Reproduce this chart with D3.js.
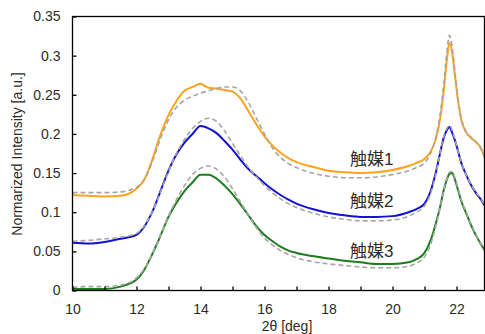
<!DOCTYPE html>
<html>
<head>
<meta charset="utf-8">
<script src="https://cdn.jsdelivr.net/npm/d3@7/dist/d3.min.js"></script>
<style>
  body { margin: 0; background: #fff; }
  svg { display: block; }
  text { font-family: "Liberation Sans", Arial, "Noto Sans CJK JP", sans-serif; fill: #2b2b2b; }
</style>
</head>
<body>
<svg id="chart" width="485" height="334"></svg>
<script>
// 2θ sample positions
const angles = [10, 10.5, 11, 11.5, 12, 12.25, 12.5, 12.75, 13, 13.25, 13.5, 13.75, 14, 14.25, 14.5, 14.75,
  15, 15.25, 15.5, 15.75, 16, 16.25, 16.5, 16.75, 17, 17.5, 18, 18.5, 19, 19.5, 20, 20.5, 20.75, 21,
  21.2, 21.35, 21.5, 21.6, 21.7, 21.78, 21.86, 21.95, 22.05, 22.15, 22.3, 22.45, 22.6, 22.75, 22.9];

// measured
const cat1 = [0.122, 0.121, 0.120, 0.121, 0.130, 0.142, 0.168, 0.199, 0.224, 0.242, 0.255, 0.260, 0.264, 0.259, 0.258, 0.256,
  0.254, 0.245, 0.229, 0.212, 0.197, 0.185, 0.176, 0.169, 0.164, 0.158, 0.153, 0.151, 0.150, 0.151, 0.154, 0.159, 0.163, 0.168,
  0.178, 0.193, 0.222, 0.255, 0.295, 0.316, 0.305, 0.275, 0.242, 0.218, 0.202, 0.195, 0.190, 0.183, 0.168];
const cat2 = [0.061, 0.060, 0.062, 0.066, 0.071, 0.082, 0.101, 0.127, 0.153, 0.174, 0.189, 0.200, 0.210, 0.207, 0.201, 0.191,
  0.180, 0.167, 0.155, 0.146, 0.137, 0.129, 0.122, 0.116, 0.111, 0.104, 0.099, 0.096, 0.094, 0.094, 0.095, 0.100, 0.104, 0.111,
  0.128, 0.150, 0.178, 0.195, 0.205, 0.209, 0.202, 0.192, 0.178, 0.163, 0.148, 0.135, 0.125, 0.117, 0.107];
const cat3 = [0.002, 0.002, 0.002, 0.005, 0.014, 0.027, 0.047, 0.070, 0.094, 0.112, 0.127, 0.138, 0.148, 0.148, 0.143, 0.134,
  0.123, 0.110, 0.096, 0.082, 0.071, 0.063, 0.056, 0.051, 0.048, 0.044, 0.041, 0.038, 0.036, 0.034, 0.034, 0.036, 0.040, 0.048,
  0.065, 0.085, 0.109, 0.128, 0.142, 0.149, 0.150, 0.142, 0.128, 0.114, 0.099, 0.084, 0.071, 0.060, 0.050];

// fitted (dashed)
const fit1 = [0.125, 0.125, 0.125, 0.126, 0.132, 0.142, 0.165, 0.194, 0.218, 0.234, 0.243, 0.248, 0.252, 0.255, 0.258, 0.260,
  0.260, 0.255, 0.240, 0.220, 0.200, 0.182, 0.170, 0.162, 0.157, 0.150, 0.146, 0.144, 0.144, 0.145, 0.148, 0.153, 0.157, 0.163,
  0.176, 0.195, 0.228, 0.262, 0.305, 0.326, 0.312, 0.280, 0.245, 0.220, 0.203, 0.196, 0.190, 0.182, 0.167];
const fit2 = [0.063, 0.064, 0.066, 0.068, 0.073, 0.083, 0.101, 0.126, 0.152, 0.175, 0.193, 0.207, 0.216, 0.220, 0.216, 0.204,
  0.188, 0.172, 0.157, 0.145, 0.134, 0.125, 0.117, 0.111, 0.106, 0.099, 0.094, 0.091, 0.089, 0.089, 0.090, 0.095, 0.100, 0.108,
  0.125, 0.148, 0.178, 0.196, 0.207, 0.211, 0.205, 0.193, 0.178, 0.164, 0.148, 0.136, 0.126, 0.118, 0.108];
const fit3 = [0.004, 0.005, 0.005, 0.007, 0.016, 0.028, 0.047, 0.070, 0.095, 0.116, 0.134, 0.148, 0.156, 0.159, 0.155, 0.145,
  0.130, 0.113, 0.096, 0.080, 0.067, 0.058, 0.051, 0.046, 0.042, 0.037, 0.034, 0.032, 0.030, 0.029, 0.029, 0.031, 0.035, 0.043,
  0.060, 0.082, 0.108, 0.128, 0.143, 0.151, 0.152, 0.144, 0.130, 0.116, 0.100, 0.085, 0.072, 0.061, 0.051];

const names = ["触媒1", "触媒2", "触媒3"];
const colors = ["#ffa31a", "#1212d0", "#1d7d1d"];
const measured = [cat1, cat2, cat3];
const fitted = [fit1, fit2, fit3];
const labelAt = [0.160, 0.107, 0.043];

const xTicks = [10, 11, 12, 13, 14, 15, 16, 17, 18, 19, 20, 21, 22];
const yTicks = [0, 0.05, 0.1, 0.15, 0.2, 0.25, 0.3, 0.35];

const svg = d3.select("#chart");
const pLeft = 72.5, pRight = 484.5, pTop = 16.5, pBottom = 290.5;

const x = d3.scaleLinear().domain([10, 22.875]).range([pLeft, pRight]);
const y = d3.scaleLinear().domain([0, 0.35]).range([pBottom, pTop]);

svg.append("defs").append("clipPath").attr("id", "clip")
  .append("rect").attr("x", pLeft).attr("y", pTop).attr("width", pRight - pLeft).attr("height", pBottom - pTop);

const line = d3.line()
  .x((d, i) => x(angles[i]))
  .y(d => y(d))
  .curve(d3.curveMonotoneX);

const plot = svg.append("g").attr("clip-path", "url(#clip)");

measured.forEach((s, k) => {
  plot.append("path")
    .attr("d", line(s))
    .attr("fill", "none")
    .attr("stroke", colors[k])
    .attr("stroke-width", 2);
});

fitted.forEach(s => {
  plot.append("path")
    .attr("d", line(s))
    .attr("fill", "none")
    .attr("stroke", "#a6a6a6")
    .attr("stroke-width", 1.6)
    .attr("stroke-dasharray", "5,3");
});

// frame
svg.append("rect")
  .attr("x", pLeft).attr("y", pTop)
  .attr("width", pRight - pLeft).attr("height", pBottom - pTop)
  .attr("fill", "none").attr("stroke", "#000").attr("stroke-width", 1.3);

// axes with inward ticks
const xAxis = svg.append("g").attr("transform", `translate(0,${pBottom})`)
  .call(d3.axisBottom(x).tickValues(xTicks).tickSizeInner(-4).tickSizeOuter(0)
    .tickFormat(d => d % 2 === 0 ? d : ""));
xAxis.select(".domain").remove();
xAxis.selectAll("line").attr("stroke-width", 1.3);
xAxis.selectAll("text").attr("y", 14).attr("dy", "0.71em").style("font-size", "14px").attr("font-family", null);

const yAxis = svg.append("g").attr("transform", `translate(${pLeft},0)`)
  .call(d3.axisLeft(y).tickValues(yTicks).tickSizeInner(-4).tickSizeOuter(0)
    .tickFormat(d => d === 0 ? "0" : String(+d.toFixed(2))));
yAxis.select(".domain").remove();
yAxis.selectAll("line").attr("stroke-width", 1.3);
yAxis.selectAll("text").attr("x", -12).style("font-size", "14px").attr("font-family", null);

// series labels
names.forEach((n, k) => {
  svg.append("text")
    .attr("x", x(18.67))
    .attr("y", y(labelAt[k]))
    .style("font-size", "17px")
    .text(n);
});

// axis titles
svg.append("text")
  .attr("x", 287).attr("y", 331)
  .attr("text-anchor", "middle")
  .style("font-size", "14px")
  .text("2θ [deg]");

svg.append("text")
  .attr("transform", "translate(22,154) rotate(-90)")
  .attr("text-anchor", "middle")
  .style("font-size", "14px")
  .text("Normarized Intensity [a.u.]");
</script>
</body>
</html>
